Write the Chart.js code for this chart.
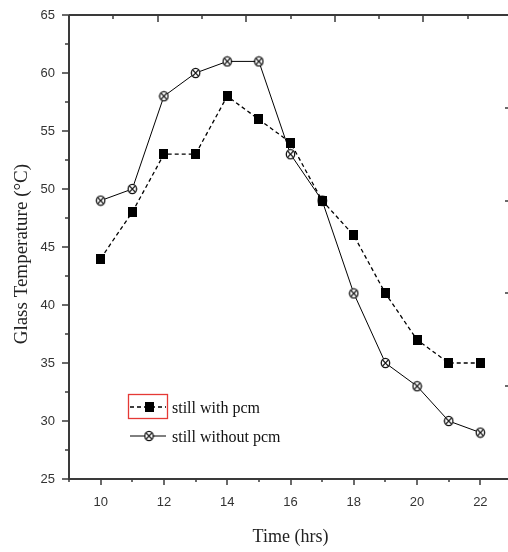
<!DOCTYPE html>
<html><head><meta charset="utf-8">
<script src="https://cdn.jsdelivr.net/npm/chart.js@4.4.1/dist/chart.umd.min.js"></script>
<style>
html,body{margin:0;padding:0;overflow:hidden;background:#fff;width:508px;height:552px}
#wrap{width:516px;height:552px}
</style></head>
<body><div id="wrap"><canvas id="c" width="516" height="552"></canvas></div>
<script>
// ---- data ----
const hours = [10,11,12,13,14,15,16,17,18,19,20,21,22];
const withPcm = [44,48,53,53,58,56,54,49,46,41,37,35,35];
const withoutPcm = [49,50,58,60,61,61,53,49,41,35,33,30,29];
const seriesLabels = ['still with pcm','still without pcm'];
const xTickLabels = [10,12,14,16,18,20,22];
const yTickLabels = [25,30,35,40,45,50,55,60,65];
const xTitle = 'Time (hrs)';
const yTitle = 'Glass Temperature (°C)   ';
const topAxisDivisions = 10;   // decorative top axis (inward ticks)
const rightAxisDivisions = 5;  // decorative right axis (inward ticks)

const numFont = "'Liberation Sans Narrow','Arial Narrow','Liberation Sans',sans-serif";
const serifFont = "'Liberation Serif','Times New Roman',serif";
const axisColor = '#3a3a3a';

function squareMarker(){
  const c=document.createElement('canvas'); c.width=9; c.height=10;
  const g=c.getContext('2d'); g.fillStyle='#000'; g.fillRect(0,0,9,10); return c;
}
function crossCircleMarker(){
  const c=document.createElement('canvas'); c.width=11; c.height=12;
  const g=c.getContext('2d');
  g.fillStyle='#fff'; g.strokeStyle='#111'; g.lineWidth=1.3;
  g.beginPath(); g.ellipse(5.5,6,4.2,4.7,0,0,Math.PI*2); g.fill(); g.stroke();
  g.beginPath(); g.moveTo(2.6,2.9); g.lineTo(8.4,9.1); g.moveTo(8.4,2.9); g.lineTo(2.6,9.1); g.stroke();
  return c;
}
const sqM = squareMarker(), ccM = crossCircleMarker();

function noPad(s){ s.paddingTop = 0; s.paddingBottom = 0; s.paddingLeft = 0; s.paddingRight = 0; }

const framePlugin = {
  id:'frame',
  afterDatasetsDraw(chart){
    const {ctx, chartArea:a, scales} = chart;
    const xs = scales.x, ys = scales.y;
    ctx.save();
    ctx.strokeStyle = axisColor; ctx.lineWidth = 2;
    ctx.beginPath();
    ctx.moveTo(a.left, a.top); ctx.lineTo(a.left, a.bottom);
    ctx.moveTo(a.left-1, a.bottom); ctx.lineTo(a.right, a.bottom);
    ctx.moveTo(a.left, a.top); ctx.lineTo(a.right, a.top);
    ctx.moveTo(a.right, a.top); ctx.lineTo(a.right, a.bottom);
    ctx.stroke();
    ctx.lineWidth = 1.5;
    ctx.beginPath();
    // bottom ticks (outward)
    for (let v = Math.ceil(xs.min); v <= xs.max; v++) {
      const px = Math.round(xs.getPixelForValue(v));
      const len = xTickLabels.includes(v) ? 6 : 3;
      ctx.moveTo(px, a.bottom); ctx.lineTo(px, a.bottom+len);
    }
    // left ticks (outward)
    for (let v = ys.min; v <= ys.max; v += 2.5) {
      const py = Math.round(ys.getPixelForValue(v));
      const len = yTickLabels.includes(v) ? 7 : 4;
      ctx.moveTo(a.left, py); ctx.lineTo(a.left-len, py);
    }
    // top ticks (inward)
    for (let k = 1; k < topAxisDivisions; k++) {
      const px = Math.round(a.left + k*(a.right-a.left)/topAxisDivisions);
      const len = k%2===0 ? 7 : 4;
      ctx.moveTo(px, a.top); ctx.lineTo(px, a.top+len);
    }
    // right ticks (inward)
    for (let k = 1; k < rightAxisDivisions; k++) {
      const py = Math.round(a.top + k*(a.bottom-a.top)/rightAxisDivisions);
      ctx.moveTo(a.right, py); ctx.lineTo(a.right-7, py);
    }
    ctx.stroke();

    // legend
    const lx = a.left + 60, ly1 = 407, ly2 = 436;
    ctx.strokeStyle = '#e53935'; ctx.lineWidth = 1.3;
    ctx.strokeRect(lx-0.5, 394.5, 39, 24);
    const rows = [ly1, ly2];
    chart.data.datasets.forEach((ds, i) => {
      const y = rows[i];
      ctx.strokeStyle = '#000'; ctx.lineWidth = ds.borderWidth;
      ctx.setLineDash(ds.borderDash || []);
      ctx.beginPath(); ctx.moveTo(lx+1, y); ctx.lineTo(lx+37, y); ctx.stroke();
      ctx.setLineDash([]);
      const m = ds.pointStyle;
      ctx.drawImage(m, lx+20-m.width/2, y-m.height/2);
      ctx.fillStyle = '#111';
      ctx.font = "16px " + serifFont;
      ctx.textBaseline = 'alphabetic'; ctx.textAlign = 'left';
      ctx.fillText(ds.label, lx+43, y+6);
    });
    ctx.restore();
  }
};

new Chart(document.getElementById('c'), {
  type: 'line',
  data: {
    datasets: [
      { label: seriesLabels[0], data: hours.map((h,i)=>({x:h,y:withPcm[i]})),
        borderColor:'#000', borderWidth:1.3, borderDash:[4,3], tension:0,
        pointStyle: sqM, pointRadius:5, pointHoverRadius:5 },
      { label: seriesLabels[1], data: hours.map((h,i)=>({x:h,y:withoutPcm[i]})),
        borderColor:'#000', borderWidth:1, tension:0,
        pointStyle: ccM, pointRadius:5, pointHoverRadius:5 }
    ]
  },
  options: {
    responsive:false, animation:false, devicePixelRatio:1,
    layout:{autoPadding:false, padding:{left:0,right:4,top:15,bottom:0}},
    plugins:{legend:{display:false}, tooltip:{enabled:false}},
    scales:{
      x:{ type:'linear', min:9, max:23, position:'bottom',
        afterFit(s){ s.height = 73; noPad(s); },
        grid:{display:false, drawTicks:false}, border:{display:false},
        ticks:{ stepSize:1, autoSkip:false, maxRotation:0, padding:16, color:'#333',
          font:{family:numFont, size:13},
          callback:v => xTickLabels.includes(v) ? String(v) : '' },
        title:{display:true, text:xTitle, color:'#222', font:{family:serifFont, size:18}, padding:{top:0,bottom:4}}
      },
      y:{ type:'linear', min:25, max:65,
        afterFit(s){ s.width = 69; noPad(s); },
        grid:{display:false, drawTicks:false}, border:{display:false},
        ticks:{ stepSize:2.5, autoSkip:false, padding:14, color:'#333',
          font:{family:numFont, size:13},
          callback:v => yTickLabels.includes(v) ? String(v) : '' },
        title:{display:true, text:yTitle, color:'#222', font:{family:serifFont, size:19}, padding:{top:11,bottom:0}}
      }
    }
  },
  plugins:[framePlugin]
});
</script></body></html>
